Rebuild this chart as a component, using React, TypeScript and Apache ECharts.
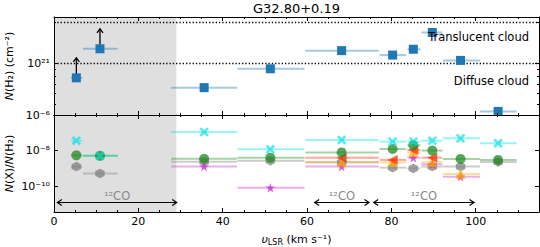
import React, { useEffect, useRef } from 'react';
import * as echarts from 'echarts';

// ---- data ----
const velocity = [5.3, 10.9, 35.6, 51.3, 68.2, 80.3, 85.2, 89.7, 96.4, 105.3];
const velLow = [4.0, 6.9, 27.8, 43.5, 59.6, 77.2, 83.8, 87.1, 92.2, 101.0];
const velHigh = [6.7, 15.1, 43.4, 59.4, 77.0, 83.5, 86.9, 92.1, 101.0, 109.7];
const nH2 = [7.8e20, 1.28e21, 6.6e20, 9.1e20, 1.24e21, 1.15e21, 1.27e21, 1.69e21, 1.05e21, 4.4e20];
const nH2LowerLimit = [true, true, false, false, false, false, false, false, false, false];

const ratioCyan = [3.6e-8, 5.1e-9, 1.1e-7, 1.18e-8, 4e-8, 3.2e-8, 3.2e-8, 3.6e-8, 4.9e-8, 2.6e-8];
const ratioGreen = [5.4e-9, 5.1e-9, 3.5e-9, 4e-9, 7.9e-9, 1.23e-8, 2e-8, 1e-8, 3.4e-9, 3e-9];
const ratioGray = [1.26e-9, 5.2e-10, 2.4e-9, 2.7e-9, 2.2e-9, 1.1e-9, 1e-9, 1.26e-9, 1.26e-9, 2.3e-9];
const ratioMagenta = [null, null, 1.26e-9, 8.3e-11, 1.26e-9, null, 4e-9, 1.7e-9, 3.4e-10, null];
const ratioRed = [null, null, null, null, 4e-9, 3e-9, 1.08e-8, 4e-9, null, null];
const ratioOrange = [null, null, null, null, 2.2e-9, 2.2e-9, 8e-9, 2.2e-9, 4.9e-10, null];

const cloudThresholds = [1e21, 2e21];
const coRanges = [[0.8, 29.1], [61.8, 74.7], [75.8, 99.6]];
const shadedRange = [0, 29];
const xTicks = [0, 20, 40, 60, 80, 100];
const xMinorTicks = [5, 10, 15, 25, 30, 35, 45, 50, 55, 65, 70, 75, 85, 90, 95, 105, 110];
const topYTicks = [1e21];
const topYMinorTicks = [5e20, 6e20, 7e20, 8e20, 9e20, 2e21];
const bottomYTicks = [1e-10, 1e-8, 1e-6];

const X_MIN = 0, X_MAX = 115;
const TOP_MIN = 4.14e20, TOP_MAX = 2.2e21;
const BOT_MIN = 3.55e-12, BOT_MAX = 1e-6;

// ---- symbols ----
const SYM_X = 'path://M2,0 L5,3 L8,0 L10,2 L7,5 L10,8 L8,10 L5,7 L2,10 L0,8 L3,5 L0,2 Z';
const SYM_HEX = 'path://M5,0 L9.33,2.5 L9.33,7.5 L5,10 L0.67,7.5 L0.67,2.5 Z';
const SYM_STAR = 'path://M5,0 L6.117,3.463 L9.755,3.455 L6.807,5.587 L7.939,9.045 L5,6.9 L2.061,9.045 L3.193,5.587 L0.245,3.455 L3.883,3.463 Z';

const FONT = 'DejaVu Sans';
const SUP: Record<string, string> = { '0': '⁰', '1': '¹', '2': '²', '3': '³', '4': '⁴', '5': '⁵', '6': '⁶', '7': '⁷', '8': '⁸', '9': '⁹', '-': '⁻' };
const supStr = (n: number) => String(n).split('').map((c) => SUP[c] || c).join('');

function xAx(gridIndex: number, position: string, values: number[], len: number, line: boolean, labels: boolean, extra: any = {}) {
  return {
    type: 'value', gridIndex, position, min: X_MIN, max: X_MAX, z: 10,
    axisLine: { show: line, onZero: false, lineStyle: { color: '#000', width: 1 } },
    axisTick: { show: true, inside: true, length: len, customValues: values, lineStyle: { color: '#000', width: 1 } },
    axisLabel: labels ? { show: true, customValues: xTicks, color: '#000', fontSize: 11, margin: 4, fontFamily: FONT } : { show: false },
    splitLine: { show: false },
    ...extra,
  };
}

function yAx(gridIndex: number, position: string, min: number, max: number, values: number[], len: number, line: boolean, labels: number[] | null) {
  return {
    type: 'log', gridIndex, position, min, max, z: 10,
    axisLine: { show: line, onZero: false, lineStyle: { color: '#000', width: 1 } },
    axisTick: { show: true, inside: true, length: len, customValues: values, lineStyle: { color: '#000', width: 1 } },
    axisLabel: labels
      ? {
          show: true, customValues: labels, color: '#000', fontSize: 11, margin: 4, fontFamily: FONT,
          formatter: (v: number) => '10' + supStr(Math.round(Math.log10(v))),
        }
      : { show: false },
    splitLine: { show: false },
    minorTick: { show: false },
  };
}

function errData(vals: (number | null)[]) {
  const out: number[][] = [];
  vals.forEach((v, i) => { if (v != null) out.push([velocity[i], velLow[i], velHigh[i], v]); });
  return out;
}
function ptData(vals: (number | null)[]) {
  const out: number[][] = [];
  vals.forEach((v, i) => { if (v != null) out.push([velocity[i], v]); });
  return out;
}

function errSeries(vals: (number | null)[], color: string, xi: number, yi: number, opacity = 0.4, width = 2) {
  return {
    type: 'custom', xAxisIndex: xi, yAxisIndex: yi, z: 3, silent: true,
    encode: { x: [1, 2], y: 3 },
    data: errData(vals),
    renderItem: (params: any, api: any) => {
      const y = api.value(3);
      const p1 = api.coord([api.value(1), y]);
      const p2 = api.coord([api.value(2), y]);
      return { type: 'line', shape: { x1: p1[0], y1: p1[1], x2: p2[0], y2: p2[1] }, style: { stroke: color, lineWidth: width, opacity } };
    },
  };
}

function ptSeries(vals: (number | null)[], symbol: string, color: string, size: number, opacity: number, xi: number, yi: number, rotate = 0) {
  return {
    type: 'scatter', xAxisIndex: xi, yAxisIndex: yi, z: 5, silent: true,
    symbol, symbolSize: size, symbolRotate: rotate,
    itemStyle: { color, opacity },
    data: ptData(vals),
  };
}

function shadeSeries(xi: number, yi: number) {
  return {
    type: 'custom', xAxisIndex: xi, yAxisIndex: yi, z: 1, silent: true,
    encode: { x: [0, 1] },
    data: [shadedRange],
    renderItem: (params: any, api: any) => {
      const cs = params.coordSys;
      const y = xi === 0 ? TOP_MIN * 1.5 : 1e-8;
      const a = api.coord([api.value(0), y])[0];
      const b = api.coord([api.value(1), y])[0];
      return { type: 'rect', shape: { x: a, y: cs.y, width: b - a, height: cs.height }, style: { fill: '#dfdfdf' } };
    },
  };
}

const italicRich = { i: { fontStyle: 'italic', fontSize: 11, fontFamily: FONT, fill: '#000' } };

export default function App() {
  const ref = useRef<HTMLDivElement>(null);
  useEffect(() => {
    const chart = echarts.init(ref.current!, null, { renderer: 'svg' });
    const option: any = {
      animation: false,
      textStyle: { fontFamily: FONT },
      grid: [
        { left: 54, top: 17, width: 485, height: 98, outerBoundsMode: 'none', containLabel: false },
        { left: 54, top: 115, width: 485, height: 97, outerBoundsMode: 'none', containLabel: false },
      ],
      xAxis: [
        xAx(0, 'bottom', xTicks, 4, true, false),
        xAx(0, 'bottom', xMinorTicks, 2, false, false),
        xAx(0, 'top', xTicks, 4, true, false),
        xAx(0, 'top', xMinorTicks, 2, false, false),
        xAx(1, 'bottom', xTicks, 4, true, true, {
          name: '{i|υ}{sub|LSR} (km s⁻¹)',
          nameLocation: 'middle', nameGap: 21,
          nameTextStyle: {
            color: '#000', fontSize: 11, fontFamily: FONT,
            rich: {
              i: { fontStyle: 'italic', fontSize: 11, fontFamily: FONT, color: '#000' },
              sub: { fontSize: 8, fontFamily: FONT, color: '#000', verticalAlign: 'bottom', padding: [5, 0, 0, 0] },
            },
          },
        }),
        xAx(1, 'bottom', xMinorTicks, 2, false, false),
        xAx(1, 'top', xTicks, 4, true, false),
        xAx(1, 'top', xMinorTicks, 2, false, false),
      ],
      yAxis: [
        yAx(0, 'left', TOP_MIN, TOP_MAX, topYTicks, 4, true, topYTicks),
        yAx(0, 'left', TOP_MIN, TOP_MAX, topYMinorTicks, 2, false, null),
        yAx(0, 'right', TOP_MIN, TOP_MAX, topYTicks, 4, true, null),
        yAx(0, 'right', TOP_MIN, TOP_MAX, topYMinorTicks, 2, false, null),
        yAx(1, 'left', BOT_MIN, BOT_MAX, bottomYTicks, 4, true, bottomYTicks),
        yAx(1, 'right', BOT_MIN, BOT_MAX, bottomYTicks, 4, true, null),
      ],
      graphic: [
        { type: 'text', x: 296.5, y: 8, style: { text: 'G32.80+0.19', fontSize: 13, fontFamily: FONT, fill: '#000', align: 'center', verticalAlign: 'middle' } },
        { type: 'text', x: 529, y: 37, z: 20, style: { text: 'Translucent cloud', fontSize: 11.5, fontFamily: FONT, fill: '#000', align: 'right', verticalAlign: 'middle' } },
        { type: 'text', x: 529, y: 81, z: 20, style: { text: 'Diffuse cloud', fontSize: 11.5, fontFamily: FONT, fill: '#000', align: 'right', verticalAlign: 'middle' } },
        {
          type: 'text', x: 9.5, y: 66, rotation: Math.PI / 2,
          style: { text: '{i|N}(H₂) (cm⁻²)', rich: italicRich, fontSize: 11, fontFamily: FONT, fill: '#000', align: 'center', verticalAlign: 'middle' },
        },
        {
          type: 'text', x: 9.5, y: 163.5, rotation: Math.PI / 2,
          style: { text: '{i|N}(X)/{i|N}(H₂)', rich: italicRich, fontSize: 11, fontFamily: FONT, fill: '#000', align: 'center', verticalAlign: 'middle' },
        },
      ],
      series: [
        shadeSeries(0, 0),
        {
          type: 'scatter', xAxisIndex: 0, yAxisIndex: 0, data: [], silent: true,
          markLine: {
            silent: true, symbol: 'none', animation: false,
            label: { show: false },
            lineStyle: { color: '#000', width: 1.3, type: [1.3, 2] },
            data: cloudThresholds.map((v) => ({ yAxis: v })),
          },
        },
        errSeries(nH2, '#1f77b4', 0, 0, 0.4, 2),
        {
          type: 'custom', xAxisIndex: 0, yAxisIndex: 0, z: 4, silent: true,
          encode: { x: 0, y: 1 },
          data: nH2.map((v, i) => [velocity[i], v]).filter((_, i) => nH2LowerLimit[i]),
          renderItem: (params: any, api: any) => {
            const p = api.coord([api.value(0), api.value(1)]);
            const tip = p[1] - 20;
            return {
              type: 'group',
              children: [
                { type: 'line', shape: { x1: p[0], y1: p[1], x2: p[0], y2: tip }, style: { stroke: '#000', lineWidth: 1.3 } },
                { type: 'polyline', shape: { points: [[p[0] - 3, tip + 4], [p[0], tip], [p[0] + 3, tip + 4]] }, style: { stroke: '#000', lineWidth: 1.3, fill: null } },
              ],
            };
          },
        },
        ptSeries(nH2, 'rect', '#1f77b4', 9, 1, 0, 0),

        shadeSeries(4, 4),
        errSeries(ratioGray, '#808080', 4, 4),
        errSeries(ratioMagenta, '#cc33cc', 4, 4),
        errSeries(ratioOrange, '#ffa500', 4, 4),
        errSeries(ratioRed, '#ff2a00', 4, 4),
        errSeries(ratioGreen, '#228b22', 4, 4),
        errSeries(ratioCyan, '#00e5e5', 4, 4),
        ptSeries(ratioGray, SYM_HEX, '#808080', 9.5, 0.75, 4, 4),
        ptSeries(ratioMagenta, SYM_STAR, '#cc22cc', 9.5, 0.75, 4, 4),
        ptSeries(ratioOrange, 'triangle', '#ffa500', 9.5, 0.75, 4, 4),
        ptSeries(ratioRed, 'triangle', '#ff2a00', 10, 0.75, 4, 4, 90),
        ptSeries(ratioGreen, 'circle', '#228b22', 10, 0.75, 4, 4),
        ptSeries(ratioCyan, SYM_X, '#00e0e0', 9.5, 0.65, 4, 4),
        {
          type: 'custom', xAxisIndex: 4, yAxisIndex: 4, z: 6, silent: true,
          encode: { x: [0, 1] },
          data: coRanges,
          renderItem: (params: any, api: any) => {
            const cs = params.coordSys;
            const xa = api.coord([api.value(0), 1e-8])[0];
            const xb = api.coord([api.value(1), 1e-8])[0];
            const y = cs.y + cs.height - 9.5;
            const h = 4.5;
            const st = { stroke: '#000', lineWidth: 1.2, fill: null };
            return {
              type: 'group',
              children: [
                { type: 'line', shape: { x1: xa, y1: y, x2: xb, y2: y }, style: st },
                { type: 'polyline', shape: { points: [[xa + h, y - 3], [xa, y], [xa + h, y + 3]] }, style: st },
                { type: 'polyline', shape: { points: [[xb - h, y - 3], [xb, y], [xb - h, y + 3]] }, style: st },
                { type: 'text', style: { text: '¹²CO', x: (xa + xb) / 2, y: y - 7, align: 'center', verticalAlign: 'middle', fill: '#888888', fontSize: 11.5, fontFamily: FONT } },
              ],
            };
          },
        },
      ],
    };
    chart.setOption(option);
    return () => chart.dispose();
  }, []);
  return <div ref={ref} style={{ width: 540, height: 247, position: 'absolute', left: 0, top: 0 }} />;
}
